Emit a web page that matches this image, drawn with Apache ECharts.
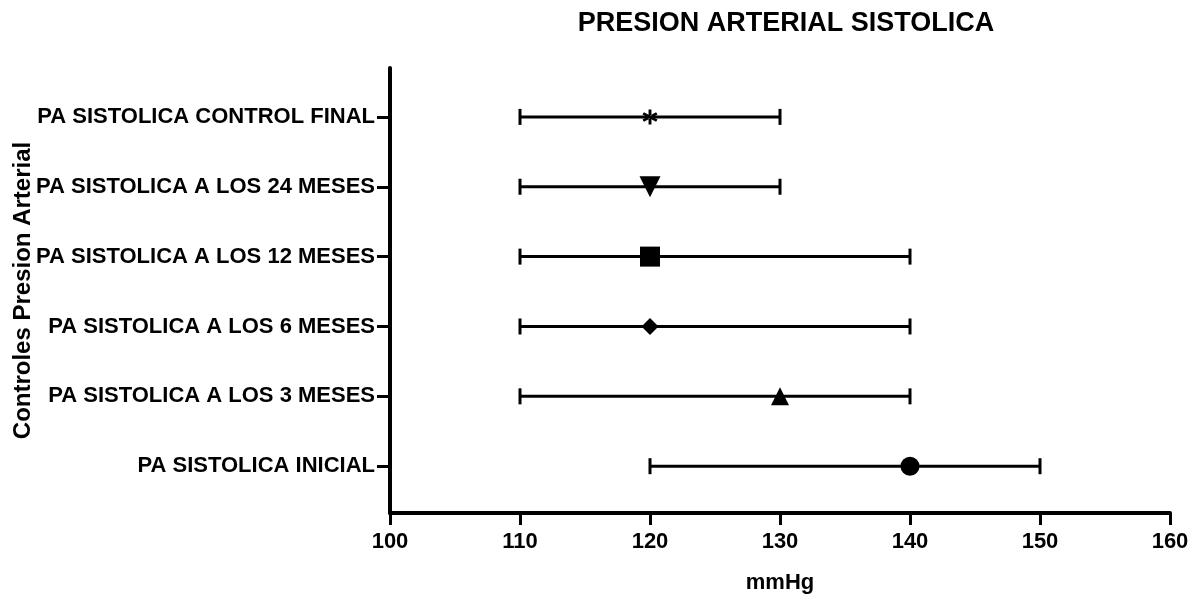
<!DOCTYPE html>
<html>
<head>
<meta charset="utf-8">
<script src="https://cdn.jsdelivr.net/npm/echarts@6/dist/echarts.min.js"></script>
<style>
  html, body { margin: 0; padding: 0; background: #fff; }
  #main { width: 1193px; height: 601px; }
</style>
</head>
<body>
<div id="main"></div>
<script>
// categories from bottom to top
var categories = [
  'PA SISTOLICA INICIAL',
  'PA SISTOLICA A LOS 3 MESES',
  'PA SISTOLICA A LOS 6 MESES',
  'PA SISTOLICA A LOS 12 MESES',
  'PA SISTOLICA A LOS 24 MESES',
  'PA SISTOLICA CONTROL FINAL'
];
var means = [140, 130, 120, 120, 120, 120];
var lows = [120, 110, 110, 110, 110, 110];
var highs = [150, 140, 140, 140, 130, 130];
var xTicks = [100, 110, 120, 130, 140, 150, 160];

// asterisk = three thin bars
var asterisk = 'path://M-5.75,-2.15 L-4.65,-4.05 L5.75,2.15 L4.65,4.05 Z ' +
  'M5.75,-2.15 L4.65,-4.05 L-5.75,2.15 L-4.65,4.05 Z ' +
  'M-1.1,-6.4 L1.1,-6.4 L1.1,6.4 L-1.1,6.4 Z';
var symbols = ['circle', 'triangle', 'diamond', 'rect', 'path://M0,0 L10,0 L5,10 Z', asterisk];
var sizes = [19, 18, [17, 17], 20, 21, 15];

var font = "'Liberation Sans', Arial, sans-serif";
var myChart = echarts.init(document.getElementById('main'));

var barData = categories.map(function (c, i) { return [lows[i], highs[i], i]; });
var pointData = categories.map(function (c, i) {
  return { value: [means[i], i], symbol: symbols[i], symbolSize: sizes[i] };
});
var idx = categories.map(function (c, i) { return i; });

var option = {
  animation: false,
  title: {
    text: 'PRESION ARTERIAL SISTOLICA',
    left: 781,
    top: 5,
    textAlign: 'center',
    textStyle: { fontFamily: font, fontSize: 27, fontWeight: 'bold', color: '#000' }
  },
  grid: { left: 390, right: 23, top: 68, bottom: 88, outerBoundsMode: 'none' },
  xAxis: {
    type: 'value',
    min: 100,
    max: 160,
    interval: 10,
    name: 'mmHg',
    nameLocation: 'middle',
    nameGap: 59,
    nameMoveOverlap: false,
    nameTextStyle: { fontFamily: font, fontSize: 22, fontWeight: 'bold', color: '#000' },
    axisLine: { onZero: false, lineStyle: { color: '#000', width: 4 } },
    axisTick: { length: 12, lineStyle: { color: '#000', width: 3 } },
    axisLabel: {
      margin: 18,
      fontFamily: font, fontSize: 22, fontWeight: 'bold', color: '#000',
      formatter: function (v) { return xTicks.indexOf(v) >= 0 ? String(v) : ''; }
    },
    splitLine: { show: false }
  },
  yAxis: {
    type: 'value',
    min: -0.67,
    max: 5.7,
    name: 'Controles Presion Arterial',
    nameLocation: 'middle',
    nameGap: 355,
    nameMoveOverlap: false,
    nameTextStyle: { fontFamily: font, fontSize: 24, fontWeight: 'bold', color: '#000' },
    axisLine: { show: true, onZero: false, lineStyle: { color: '#000', width: 4 } },
    axisTick: { show: true, customValues: idx, length: 13, lineStyle: { color: '#000', width: 3 } },
    axisLabel: {
      customValues: idx,
      margin: 15,
      fontFamily: font, fontSize: 22, fontWeight: 'bold', color: '#000',
      formatter: function (v) { return categories[Math.round(v)]; }
    },
    splitLine: { show: false }
  },
  series: [
    {
      type: 'custom',
      data: barData,
      z: 1,
      renderItem: function (params, api) {
        var p0 = api.coord([api.value(0), api.value(2)]);
        var p1 = api.coord([api.value(1), api.value(2)]);
        var h = 8;
        var st = { stroke: '#000', lineWidth: 3 };
        return {
          type: 'group',
          children: [
            { type: 'line', shape: { x1: p0[0], y1: p0[1], x2: p1[0], y2: p1[1] }, style: st },
            { type: 'line', shape: { x1: p0[0], y1: p0[1] - h, x2: p0[0], y2: p0[1] + h }, style: st },
            { type: 'line', shape: { x1: p1[0], y1: p1[1] - h, x2: p1[0], y2: p1[1] + h }, style: st }
          ]
        };
      }
    },
    {
      type: 'scatter',
      data: pointData,
      z: 3,
      itemStyle: { color: '#000', opacity: 1 }
    }
  ]
};

myChart.setOption(option);
</script>
</body>
</html>
